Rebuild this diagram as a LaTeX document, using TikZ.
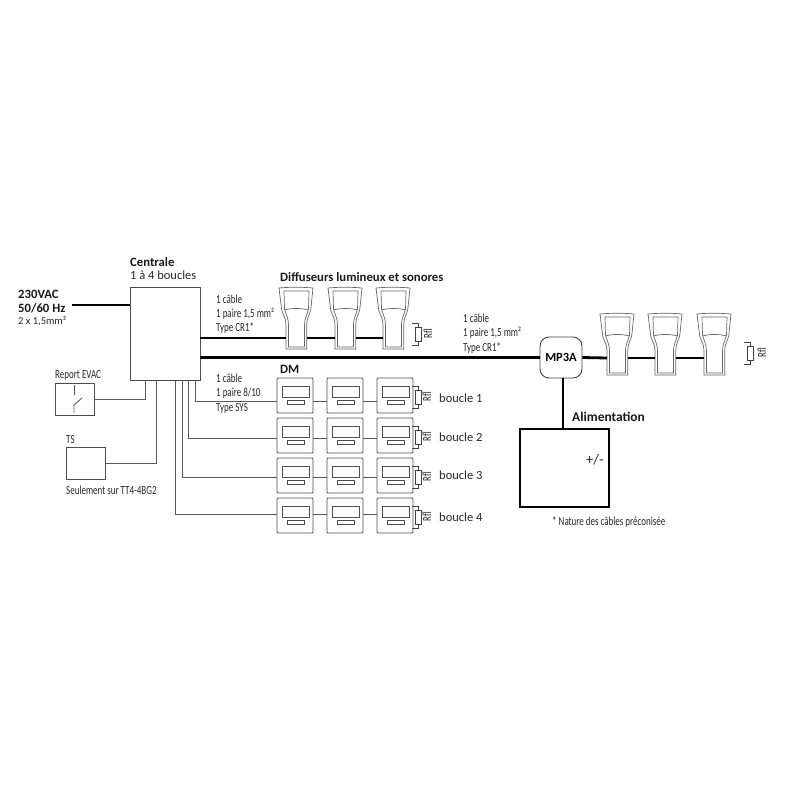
\documentclass[tikz,border=0pt]{standalone}
\usepackage{fontspec}
\setmainfont{Carlito}
\newfontfamily\condfont[FakeStretch=0.73]{Carlito}
\begin{document}
\begin{tikzpicture}[x=1pt,y=-1pt]
    \tikzstyle{fil}=[draw=black!65, line width=0.9pt]
    \tikzstyle{cable}=[draw=black, line width=2.8pt]
    \tikzstyle{boite}=[draw=black!70, line width=0.9pt, inner sep=0pt]
    \tikzstyle{txt}=[anchor=west, inner sep=0pt, text=black!85, font=\condfont\fontsize{12.3}{13}\selectfont]
    \tikzstyle{titre}=[anchor=west, inner sep=0pt, text=black!90, font=\fontsize{12.7}{14}\selectfont\bfseries]
    \tikzstyle{boucle}=[anchor=west, inner sep=0pt, text=black!85, font=\fontsize{12.5}{14}\selectfont]
    \tikzset{
      diffuseur/.pic={
        \draw[draw=black!60, line width=0.7pt] (0,1) .. controls (10,0) and (24,0) .. (34,1) -- (31.7,23)
          .. controls (30.5,28) and (27.7,31) .. (27.7,38) -- (27.7,62) -- (7,62) -- (7,38)
          .. controls (7,31) and (4,28) .. (2.7,23) -- cycle;
        \draw[draw=black!60, line width=0.7pt] (5,4) -- (30,4) -- (29.5,22)
          .. controls (28,28) and (25.5,31) .. (25.5,38) -- (25.5,60) -- (9.5,60) -- (9.5,38)
          .. controls (9.5,31) and (7,28) .. (5.5,22) -- cycle;
        \draw[draw=black!60, line width=0.7pt] (5.5,23) .. controls (12,21) and (23,21) .. (29.5,23);
        \coordinate (-w) at (7,#1);
        \coordinate (-e) at (27.7,#1);
      },
      dmodule/.pic={
        \node[boite, rounded corners=1pt, minimum width=36pt, minimum height=35pt] (-box) at (18,17.5) {};
        \draw[draw=black!70, line width=0.8pt] (5,8) rectangle (32,19);
        \draw[draw=black!70, line width=0.7pt] (10,22) rectangle (27,26);
      },
      rfl/.pic={
        \draw[draw=black!75, line width=0.7pt] (0,0) -- (6,0) -- (6,4);
        \draw[draw=black!75, line width=0.7pt] (6,18) -- (6,22) -- (0,22);
        \draw[draw=black!75, line width=0.8pt] (3.5,4) rectangle (9,18);
        \node[rotate=90, inner sep=0pt, text=black!85, font=\condfont\fontsize{12.3}{13}\selectfont] at (#1,11) {Rfl};
      }
    }
    % centrale
    \node[boite, minimum width=70pt, minimum height=93pt] (centrale) at (165,333.5) {};
    \node[titre] (t1) at (130,262) {Centrale};
    \node[boucle] (t2) at (130,275) {1 à 4 boucles};
    \node[titre] (t3) at (18,294) {230VAC};
    \node[titre] (t4) at (18,308) {50/60 Hz};
    \node[txt, font=\fontsize{10.5}{11}\selectfont] (t5) at (18,321) {2 x 1,5mm²};
    \coordinate (secteur) at (72,305);
    \draw[cable] (secteur) -- (centrale.west |- secteur);
    % report et TS
    \node[boite, minimum width=39pt, minimum height=32pt] (evac) at (74.5,399) {};
    \node[txt] (t6) at (55,375) {Report EVAC};
    \node[boite, minimum width=39pt, minimum height=32pt] (ts) at (85.5,463) {};
    \node[txt] (t7) at (66,440) {TS};
    \node[txt] (t8) at (66,490) {Seulement sur TT4-4BG2};
    \draw[fil] (74,385) -- (74,395);
    \draw[fil] (82,398) -- (74,405) -- (74,413);
    \coordinate (s1) at (145,380);
    \coordinate (s2) at (156,380);
    \draw[fil] (s1) |- (evac.east);
    \draw[fil] (s2) |- (ts.east);
    % diffuseurs
    \node[titre] (t9) at (280,277) {Diffuseurs lumineux et sonores};
    \pic (d1) at (279,287) {diffuseur=51};
    \pic (d2) at (328,287) {diffuseur=51};
    \pic (d3) at (376,287) {diffuseur=51};
    \pic at (412,323) {rfl=16};
    \draw[cable] (centrale.east |- d1-w) -- (d1-w);
    \draw[cable] (d1-e) -- (d2-w);
    \draw[cable] (d2-e) -- (d3-w);
    \node[txt] (t10) at (216,299) {1 câble};
    \node[txt] (t11) at (216,314) {1 paire 1,5 mm²};
    \node[txt] (t12) at (216,328) {Type CR1*};
    % MP3A
    \node[draw=black!75, line width=0.9pt, rounded corners=9pt, minimum width=42pt, minimum height=41pt, inner sep=0pt, font=\fontsize{12.5}{13}\selectfont\bfseries] (mp3a) at (561,357.5) {MP3A};
    \draw[cable] (centrale.east |- mp3a.west) -- (mp3a.west);
    \node[txt] (t13) at (463,318) {1 câble};
    \node[txt] (t14) at (463,333) {1 paire 1,5 mm²};
    \node[txt] (t15) at (463,348) {Type CR1*};
    \pic (d4) at (600,313) {diffuseur=45};
    \pic (d5) at (648,313) {diffuseur=45};
    \pic (d6) at (697,313) {diffuseur=45};
    \pic at (744,342) {rfl=18};
    \draw[cable] (mp3a.east) -- (d4-w);
    \draw[cable] (d4-e) -- (d5-w);
    \draw[cable] (d5-e) -- (d6-w);
    % alimentation
    \node[draw=black, line width=1.1pt, minimum width=89pt, minimum height=78pt, inner sep=0pt] (alim) at (564.5,468) {};
    \draw[cable] (mp3a.south -| 563,0) -- (alim.north -| 563,0);
    \node[titre, font=\fontsize{13.4}{14}\selectfont\bfseries] (t16) at (572,417) {Alimentation};
    \node[boucle, font=\fontsize{14.5}{15}\selectfont] (t17) at (586,460) {+/-};
    \node[txt] (t18) at (552,522) {* Nature des câbles préconisée};
    % DM
    \node[titre] (t19) at (280,369) {DM};
    \node[txt] (t20) at (216,378) {1 câble};
    \node[txt] (t21) at (216,393) {1 paire 8/10};
    \node[txt] (t22) at (216,408) {Type SYS};
    \foreach \r/\ytop/\yfil/\xfil/\ytxt in {1/378/401/195/398,2/418/438/188/437,3/458/477/182/475,4/498/514/175/517}{
      \pic (dm\r a) at (277,\ytop) {dmodule};
      \pic (dm\r b) at (327,\ytop) {dmodule};
      \pic (dm\r c) at (377,\ytop) {dmodule};
      \pic at (412,\ytop+8) {rfl=15};
      \coordinate (b\r) at (\xfil,380);
      \draw[fil] (b\r) |- (dm\r a-box.west |- 0,\yfil);
      \draw[fil] (dm\r a-box.east |- 0,\yfil) -- (dm\r b-box.west |- 0,\yfil);
      \draw[fil] (dm\r b-box.east |- 0,\yfil) -- (dm\r c-box.west |- 0,\yfil);
      \node[boucle] (bl\r) at (439,\ytxt) {boucle \r};
    }
    \useasboundingbox (0,0) rectangle (800,800);
\end{tikzpicture}
\end{document}
